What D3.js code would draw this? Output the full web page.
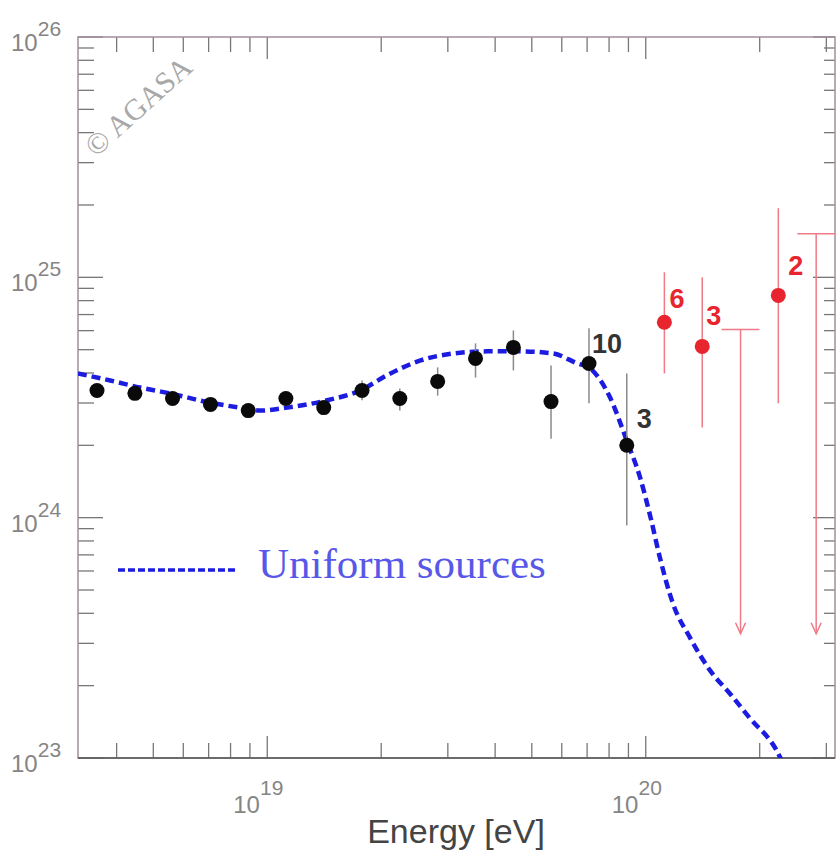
<!DOCTYPE html>
<html>
<head>
<meta charset="utf-8">
<script src="https://cdn.jsdelivr.net/npm/d3@7"></script>
<style>
  body { margin: 0; background: #fff; }
  svg { display: block; }
  .tick-label { font-family: "Liberation Sans", Arial, sans-serif; fill: #858585; }
</style>
</head>
<body>
<div id="chart"></div>
<script>
// AGASA bins, 0.1 decade wide (energy in eV, flux E^3 J)
const energy = [3.55e18, 4.47e18, 5.62e18, 7.08e18, 8.91e18, 1.12e19, 1.41e19, 1.78e19,
                2.24e19, 2.82e19, 3.55e19, 4.47e19, 5.62e19, 7.08e19, 8.91e19];
const flux   = [3.38e24, 3.29e24, 3.13e24, 2.96e24, 2.79e24, 3.13e24, 2.87e24, 3.38e24,
                3.13e24, 3.69e24, 4.60e24, 5.11e24, 3.04e24, 4.38e24, 2.00e24];
const fluxHi = [3.55e24, 3.45e24, 3.30e24, 3.12e24, 2.94e24, 3.30e24, 3.03e24, 3.72e24,
                3.45e24, 4.22e24, 5.31e24, 6.01e24, 4.30e24, 6.14e24, 3.98e24];
const fluxLo = [3.22e24, 3.13e24, 2.98e24, 2.82e24, 2.66e24, 2.98e24, 2.73e24, 3.08e24,
                2.79e24, 3.22e24, 3.83e24, 4.10e24, 2.13e24, 2.99e24, 9.27e23];

// events above 1e20 eV
const redEnergy = [1.12e20, 1.41e20, 2.24e20];
const redFlux   = [6.50e24, 5.16e24, 8.41e24];
const redHi     = [1.05e25, 1.00e25, 1.94e25];
const redLo     = [3.98e24, 2.37e24, 2.99e24];

// upper limits
const limitEnergy = [1.78e20, 2.82e20];
const limitFlux   = [6.07e24, 1.52e25];
const limitArrowTo = 3.29e23;

// event counts
const countLabels = [
  {E: 7.08e19, F: 4.38e24, text: "10", red: false},
  {E: 8.91e19, F: 2.00e24, text: "3",  red: false},
  {E: 1.12e20, F: 6.50e24, text: "6",  red: true},
  {E: 1.41e20, F: 5.16e24, text: "3",  red: true},
  {E: 2.24e20, F: 8.41e24, text: "2",  red: true}
];
const labelOffset = [[3, -10], [10, -17], [5, -14], [4, -21], [10, -20]];

// uniform sources model curve
const curveE = [3.16e18, 3.85e18, 4.61e18, 5.53e18, 7.06e18, 8.85e18, 9.57e18, 1.13e19,
                1.44e19, 1.76e19, 2.07e19, 2.54e19, 3.10e19, 3.81e19, 4.66e19, 5.69e19,
                6.58e19, 7.13e19, 8.05e19, 8.91e19, 9.66e19, 1.03e20, 1.09e20, 1.18e20,
                1.31e20, 1.48e20, 1.67e20, 1.88e20, 2.22e20, 2.33e20];
const curveJ = [3.98e24, 3.72e24, 3.48e24, 3.29e24, 3.01e24, 2.84e24, 2.79e24, 2.87e24,
                3.08e24, 3.38e24, 3.91e24, 4.51e24, 4.82e24, 4.92e24, 4.92e24, 4.82e24,
                4.39e24, 4.18e24, 3.16e24, 2.09e24, 1.47e24, 1.00e24, 6.81e23, 4.39e23,
                3.16e23, 2.31e23, 1.85e23, 1.47e23, 1.07e23, 9.16e22];

const xTickLabels = [1e19, 1e20];
const yTickLabels = [1e23, 1e24, 1e25, 1e26];

const W = 837, H = 850;
const pl = 78, pr = 835, pt = 37, pb = 758;
const frameColor = "#a08f9c", red = "#e8242e", redLine = "#f07a86", blue = "#1c1ce0";

const svg = d3.select("#chart").append("svg").attr("width", W).attr("height", H);

const x = d3.scaleLog().domain([Math.pow(10, 18.5), Math.pow(10, 20.5)]).range([pl, pr]);
const y = d3.scaleLog().domain([1e23, 1e26]).range([pb, pt]);

const isMajor = v => Math.abs(Math.log10(v) - Math.round(Math.log10(v))) < 1e-6;

// ticks on all four sides, pointing inwards
const xt = x.ticks(), yt = y.ticks();
svg.append("g").selectAll("line").data(xt).join("line")
  .attr("x1", d => x(d)).attr("x2", d => x(d))
  .attr("y1", pb).attr("y2", d => pb - (isMajor(d) ? 22 : 15))
  .attr("stroke", "#777").attr("stroke-width", 1.3);
svg.append("g").selectAll("line").data(xt).join("line")
  .attr("x1", d => x(d)).attr("x2", d => x(d))
  .attr("y1", pt).attr("y2", d => pt + (isMajor(d) ? 22 : 15))
  .attr("stroke", "#777").attr("stroke-width", 1.3);
svg.append("g").selectAll("line").data(yt).join("line")
  .attr("y1", d => y(d)).attr("y2", d => y(d))
  .attr("x1", pl).attr("x2", d => pl + (isMajor(d) ? 25 : 16))
  .attr("stroke", "#777").attr("stroke-width", 1.3);
svg.append("g").selectAll("line").data(yt).join("line")
  .attr("y1", d => y(d)).attr("y2", d => y(d))
  .attr("x1", pr).attr("x2", d => pr - (isMajor(d) ? 22 : 11))
  .attr("stroke", "#777").attr("stroke-width", 1.3);

// frame
svg.append("rect").attr("x", pl).attr("y", pt)
  .attr("width", pr - pl).attr("height", pb - pt)
  .attr("fill", "none").attr("stroke", frameColor).attr("stroke-width", 1.5);
svg.append("line").attr("x1", pl).attr("x2", pr).attr("y1", pb).attr("y2", pb)
  .attr("stroke", "#555").attr("stroke-width", 1.5);

// tick labels
const yl = svg.append("g").selectAll("text").data(yTickLabels).join("text")
  .attr("class", "tick-label")
  .attr("x", 11).attr("y", d => y(d) + 14)
  .style("font-size", "24px");
yl.append("tspan").text("10");
yl.append("tspan").attr("dy", -15).style("font-size", "21px").text(d => Math.round(Math.log10(d)));

const xl = svg.append("g").selectAll("text").data(xTickLabels).join("text")
  .attr("class", "tick-label")
  .attr("x", d => x(d) - 34).attr("y", 813)
  .style("font-size", "24px");
xl.append("tspan").text("10");
xl.append("tspan").attr("dy", -18).style("font-size", "21px").text(d => Math.round(Math.log10(d)));

svg.append("text").attr("x", 456).attr("y", 843).attr("text-anchor", "middle")
  .style("font-family", "Liberation Sans, Arial, sans-serif").style("font-size", "34px")
  .attr("fill", "#444").text("Energy [eV]");

// watermark
svg.append("text").attr("transform", "translate(96,158) rotate(-42)")
  .style("font-family", "Liberation Serif, Times New Roman, serif").style("font-size", "30px")
  .attr("fill", "#a8a8a8").text("\u00a9 AGASA");

// model curve
svg.append("clipPath").attr("id", "plotclip").append("rect")
  .attr("x", pl).attr("y", pt).attr("width", pr - pl).attr("height", pb - pt);
const line = d3.line().x(d => x(d[0])).y(d => y(d[1])).curve(d3.curveMonotoneX);
svg.append("path").datum(d3.zip(curveE, curveJ))
  .attr("clip-path", "url(#plotclip)")
  .attr("d", line).attr("fill", "none").attr("stroke", blue)
  .attr("stroke-width", 4.5).attr("stroke-dasharray", "9,5");

// black points
const blk = d3.range(energy.length);
svg.append("g").selectAll("line").data(blk).join("line")
  .attr("x1", i => x(energy[i])).attr("x2", i => x(energy[i]))
  .attr("y1", i => y(fluxHi[i])).attr("y2", i => y(fluxLo[i]))
  .attr("stroke", "#8a8a8a").attr("stroke-width", 1.5);
svg.append("g").selectAll("circle").data(blk).join("circle")
  .attr("cx", i => x(energy[i])).attr("cy", i => y(flux[i])).attr("r", 7.5)
  .attr("fill", "#0a0a0a");

// red points
const rd = d3.range(redEnergy.length);
svg.append("g").selectAll("line").data(rd).join("line")
  .attr("x1", i => x(redEnergy[i])).attr("x2", i => x(redEnergy[i]))
  .attr("y1", i => y(redHi[i])).attr("y2", i => y(redLo[i]))
  .attr("stroke", redLine).attr("stroke-width", 1.5);
svg.append("g").selectAll("circle").data(rd).join("circle")
  .attr("cx", i => x(redEnergy[i])).attr("cy", i => y(redFlux[i])).attr("r", 7.5)
  .attr("fill", red);

// upper limits: bar over the bin, arrow down
const lim = svg.append("g").selectAll("g").data(d3.range(limitEnergy.length)).join("g");
const halfBin = Math.pow(10, 0.05);
lim.append("line")
  .attr("x1", i => x(limitEnergy[i] / halfBin)).attr("x2", i => Math.min(pr, x(limitEnergy[i] * halfBin)))
  .attr("y1", i => y(limitFlux[i])).attr("y2", i => y(limitFlux[i]))
  .attr("stroke", redLine).attr("stroke-width", 1.5);
lim.append("line")
  .attr("x1", i => x(limitEnergy[i])).attr("x2", i => x(limitEnergy[i]))
  .attr("y1", i => y(limitFlux[i])).attr("y2", y(limitArrowTo))
  .attr("stroke", redLine).attr("stroke-width", 1.5);
lim.append("path")
  .attr("d", i => `M${x(limitEnergy[i]) - 5},${y(limitArrowTo) - 11}L${x(limitEnergy[i])},${y(limitArrowTo)}L${x(limitEnergy[i]) + 5},${y(limitArrowTo) - 11}`)
  .attr("fill", "none").attr("stroke", redLine).attr("stroke-width", 1.5);

// count labels
svg.append("g").selectAll("text").data(countLabels).join("text")
  .attr("x", (d, i) => x(d.E) + labelOffset[i][0])
  .attr("y", (d, i) => y(d.F) + labelOffset[i][1])
  .style("font-family", "Liberation Sans, Arial, sans-serif").style("font-size", "27px")
  .style("font-weight", "bold")
  .attr("fill", d => d.red ? red : "#333").text(d => d.text);

// legend
svg.append("line").attr("x1", 118).attr("x2", 236).attr("y1", 570).attr("y2", 570)
  .attr("stroke", blue).attr("stroke-width", 3.5).attr("stroke-dasharray", "7,3");
svg.append("text").attr("x", 258).attr("y", 578)
  .style("font-family", "Liberation Serif, Times New Roman, serif").style("font-size", "43px")
  .attr("fill", "#5858e8").text("Uniform sources");
</script>
</body>
</html>
